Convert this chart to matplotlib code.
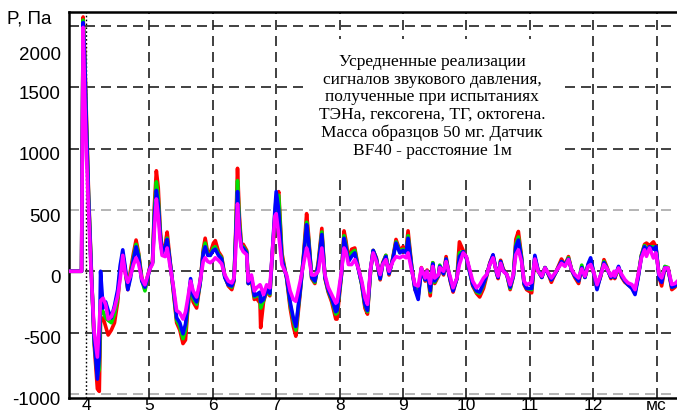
import matplotlib
matplotlib.use('Agg')
import matplotlib.pyplot as plt
import matplotlib.transforms as mtransforms

# time, ms
t = [3.73, 3.93, 3.955, 3.98, 4.005, 4.04, 4.08, 4.13, 4.18, 4.21,
     4.23, 4.27, 4.31, 4.35, 4.40, 4.45, 4.50, 4.54, 4.58, 4.62,
     4.66, 4.70, 4.75, 4.79, 4.83, 4.88, 4.93, 4.97, 5.01, 5.05,
     5.08, 5.11, 5.14, 5.17, 5.20, 5.25, 5.28, 5.32, 5.38, 5.43,
     5.48, 5.53, 5.57, 5.60, 5.65, 5.69, 5.745, 5.80, 5.85, 5.88,
     5.92, 5.96, 6.01, 6.04, 6.09, 6.14, 6.19, 6.245, 6.30, 6.335,
     6.36, 6.39, 6.42, 6.45, 6.48, 6.535, 6.56, 6.61, 6.655, 6.69,
     6.745, 6.755, 6.80, 6.85, 6.90, 6.93, 6.98, 7.00, 7.04, 7.09,
     7.165, 7.22, 7.27, 7.31, 7.38, 7.43, 7.48, 7.51, 7.56, 7.61,
     7.665, 7.72, 7.77, 7.82, 7.875, 7.94, 7.96, 8.03, 8.07, 8.10,
     8.14, 8.19, 8.24, 8.295, 8.35, 8.40, 8.44, 8.49, 8.53, 8.58,
     8.64, 8.68, 8.73, 8.78, 8.84, 8.89, 8.95, 9.00, 9.05, 9.08,
     9.14, 9.19, 9.24, 9.29, 9.35, 9.38, 9.43, 9.47, 9.50, 9.56,
     9.58, 9.64, 9.68, 9.72, 9.75, 9.79, 9.85, 9.89, 9.95, 10.00,
     10.06, 10.10, 10.16, 10.21, 10.27, 10.32, 10.37, 10.42, 10.48, 10.50,
     10.54, 10.58, 10.64, 10.69, 10.74, 10.78, 10.82, 10.87, 10.91, 10.95,
     11.03, 11.08, 11.13, 11.19, 11.24, 11.29, 11.34, 11.40, 11.45, 11.50,
     11.555, 11.61, 11.66, 11.71, 11.77, 11.82, 11.87, 11.92, 11.96, 12.01,
     12.06, 12.12, 12.17, 12.22, 12.28, 12.33, 12.34, 12.40, 12.45, 12.50,
     12.55, 12.61, 12.66, 12.71, 12.76, 12.81, 12.84, 12.89, 12.95, 12.99,
     13.04, 13.08, 13.13, 13.18, 13.24, 13.29, 13.33]

# pressure, Pa
p_red = [0, 0, 2075, 1760, 1300, 650, 80, -600, -960, -980,
         -400, -380, -450, -520, -480, -420, -250, 0, 120, 0,
         -150, 0, 150, 255, 150, -50, -150, -50, 40, 80,
         550, 820, 680, 350, 160, 220, 320, 120, -170, -420,
         -480, -590, -560, -350, -100, -250, -300, -100, 180, 270,
         150, 150, 230, 250, 160, 120, -40, -120, -150, -80,
         300, 840, 450, 220, 220, 170, -100, -70, -230, -220,
         -260, -460, -250, -160, -200, 60, 420, 560, 650, 150,
         -60, -300, -450, -530, -170, 120, 470, 300, -60, -100,
         80, 350, -60, -170, -250, -390, -390, -30, 330, 250,
         100, 180, 190, 30, -110, -300, -350, 10, 170, 110,
         -70, 70, 130, -30, 110, 260, 170, 200, 180, 330,
         30, -150, -200, 30, -80, 10, -200, 70, -100, -40,
         40, -30, 120, -10, -90, -170, -60, 240, 170, 110,
         -20, -120, -180, -210, -140, -40, 70, 130, -20, -60,
         90, 20, -30, -150, -40, 260, 325, 120, -110, -150,
         -176, 110, 10, -50, 30, -20, -90, -20, 40, 100,
         50, 120, 10, -50, -100, 30, -50, 50, 80, -20,
         -130, -40, 95, 30, -60, -10, -60, 30, -50, -90,
         -110, -130, -170, -40, 130, 220, 230, 210, 240, 200,
         -50, -120, 30, 30, -150, -130, -100]

p_green = [0, 0, 2050, 1740, 1250, 620, 60, -580, -850, -800,
           -300, -330, -380, -400, -420, -350, -220, 20, 140, 10,
           -140, -30, 120, 220, 140, -70, -160, -50, 30, 70,
           500, 730, 600, 320, 150, 200, 270, 100, -160, -400,
           -450, -550, -480, -320, -90, -220, -270, -100, 160, 230,
           140, 130, 190, 200, 140, 110, -50, -110, -130, -70,
           270, 740, 400, 210, 200, 160, -100, -60, -210, -200,
           -200, -300, -240, -150, -190, 70, 470, 600, 620, 120,
           -50, -270, -400, -480, -150, 110, 400, 270, -50, -90,
           60, 320, -50, -160, -230, -350, -340, -20, 290, 220,
           90, 150, 170, 25, -110, -280, -330, 15, 170, 100,
           -60, 60, 130, -20, 100, 240, 160, 180, 160, 290,
           20, -140, -200, 20, -70, 0, -170, 70, -90, -30,
           50, -20, 100, 0, -80, -150, -60, 150, 160, 110,
           -20, -110, -170, -180, -110, -30, 60, 120, -20, -50,
           80, 10, -30, -140, -40, 220, 280, 110, -100, -140,
           -150, 110, 0, -50, 30, -20, -70, -20, 30, 80,
           50, 110, 10, -40, -80, 50, -50, 50, 90, -10,
           -130, -30, 80, 20, -50, -10, -50, 30, -40, -80,
           -110, -130, -170, -40, 130, 210, 180, 200, 200, 190,
           -40, -80, 40, 30, -130, -120, -90]

p_blue = [0, 0, 2030, 1720, 1200, 600, 50, -560, -880, -700,
          0, -300, -250, -320, -380, -280, -150, 50, 175, 30,
          -150, -60, 100, 200, 120, -80, -130, -60, 30, 70,
          450, 660, 550, 300, 150, 200, 260, 100, -150, -380,
          -420, -510, -430, -300, -60, -200, -250, -100, 150, 200,
          130, 130, 170, 180, 130, 100, -50, -110, -120, -70,
          250, 650, 350, 200, 190, 150, -100, -50, -200, -190,
          -170, -250, -230, -150, -180, 80, 500, 650, 500, 100,
          -50, -250, -380, -450, -150, 100, 380, 250, -50, -80,
          50, 300, -50, -150, -220, -330, -320, -20, 270, 200,
          80, 120, 150, 20, -100, -270, -320, 20, 170, 100,
          -60, 60, 120, -20, 100, 230, 150, 170, 150, 270,
          20, -150, -230, 20, -70, 0, -160, 60, -80, -30,
          40, -20, 100, -10, -80, -160, -60, 120, 160, 110,
          -20, -110, -160, -170, -100, -30, 60, 135, -20, -50,
          80, 10, -30, -130, -40, 200, 255, 100, -100, -140,
          -140, 130, 10, -50, 30, -20, -70, -20, 30, 80,
          50, 100, 10, -40, -80, 30, -50, 60, 110, -20,
          -150, -30, 70, 20, -50, -10, -50, 40, -40, -80,
          -110, -140, -190, -50, 120, 200, 160, 200, 180, 200,
          -60, -90, 30, 20, -130, -120, -90]

p_magenta = [0, 0, 1990, 1430, 1000, 500, 0, -500, -700, -420,
             -240, -220, -270, -390, -370, -300, -200, -60, 130, -20,
             -90, -40, 55, 110, 60, -60, -110, -40, 20, 60,
             350, 590, 450, 250, 130, 120, 190, 60, -130, -320,
             -340, -390, -330, -240, -80, -160, -210, -80, 80, 110,
             80, 70, 90, 110, 90, 60, -30, -80, -95, -55,
             150, 550, 300, 190, 160, 135, -80, -30, -160, -135,
             -110, -120, -190, -110, -135, 80, 450, 470, 300, 55,
             -30, -160, -230, -245, -80, 55, 190, 130, -30, -30,
             0, 190, -30, -130, -190, -260, -250, 0, 190, 160,
             55, 55, 95, 27, -80, -215, -270, 27, 150, 80,
             -27, 55, 95, 0, 80, 120, 110, 125, 110, 150,
             0, -110, -120, 27, -55, 0, -100, 40, -55, -27,
             30, 0, 80, 0, -55, -135, -55, 55, 150, 120,
             0, -80, -135, -110, -55, -27, 55, 110, -10, -40,
             65, 0, -27, -110, -27, 135, 175, 80, -80, -110,
             -90, 100, 0, -40, 27, -13, -55, -13, 27, 65,
             40, 95, 13, -27, -55, 20, -40, 40, 55, -10,
             -110, -27, 55, 20, -40, 0, -40, 27, -27, -68,
             -95, -108, -150, -27, 108, 175, 122, 190, 108, 150,
             -27, -54, 27, 27, -108, -100, -80]

series = [(p_red, '#ff0000'), (p_green, '#00e000'),
          (p_blue, '#0000ff'), (p_magenta, '#ff00ff')]

x_ticks = [4, 5, 6, 7, 8, 9, 10, 11, 12, 13]
x_labels = ['4', '5', '6', '7', '8', '9', '10', '11', '12', 'мс']
y_ticks = [2000, 1500, 1000, 500, 0, -500, -1000]
y_labels = ['2000', '1500', '1000', '500', '0', '-500', '-1000']
grey_rows = [500, -1000]

note = ('Усредненные реализации\n'
        'сигналов звукового давления,\n'
        'полученные при испытаниях\n'
        'ТЭНа, гексогена, ТГ, октогена.\n'
        'Масса образцов 50 мг. Датчик\n'
        'BF40 - расстояние 1м')

plt.rcParams['font.family'] = ['Liberation Sans', 'DejaVu Sans']

fig = plt.figure(figsize=(6.77, 4.17), dpi=100)
ax = fig.add_axes([0.1019, 0.0456, 0.8981, 0.9257])

for vals, col in series:
    ax.plot(t, vals, color=col, lw=2.6, solid_joinstyle='round', zorder=3)

ax.set_xlim(3.732, 13.322)
ax.set_ylim(-1034, 2116)

ax.set_xticks(x_ticks)
ax.set_xticklabels(x_labels)
ax.set_yticks(y_ticks)
ax.set_yticklabels(y_labels)
ax.tick_params(length=0, labelsize=13.5, colors='black')
ax.tick_params(axis='x', pad=0, labelsize=12.5)
ax.tick_params(axis='y', pad=6)

# labels sit a little below their grid lines
for i, lab in enumerate(ax.get_yticklabels()):
    dy = -27 if y_ticks[i] == 2000 else -5
    lab.set_transform(lab.get_transform() +
                      mtransforms.ScaledTranslation(0, dy / 100, fig.dpi_scale_trans))

dash = (0, (6, 3.6))
for v in y_ticks:
    col = '#a8a8a8' if v in grey_rows else '#202020'
    ax.axhline(v, color=col, lw=1.2, ls=dash, zorder=1)
for v in x_ticks:
    if v == 4:
        ax.axvline(v, color='black', lw=1.0, ls=(0, (1.2, 1.6)), zorder=1)
    else:
        ax.axvline(v, color='#202020', lw=1.2, ls=dash, zorder=1)

for side in ['left', 'bottom', 'top']:
    ax.spines[side].set_linewidth(1.8)
ax.spines['right'].set_visible(False)

ax.text(0.597, 0.755, note, transform=ax.transAxes, ha='center', va='center',
        family='Liberation Serif', fontsize=12.5, linespacing=1.13, zorder=2,
        bbox=dict(boxstyle='square,pad=0.9', fc='white', ec='none'))

fig.text(0.01, 0.955, 'P, Па', fontsize=13.5, ha='left', va='center')

fig.savefig('out.png', dpi=100)
